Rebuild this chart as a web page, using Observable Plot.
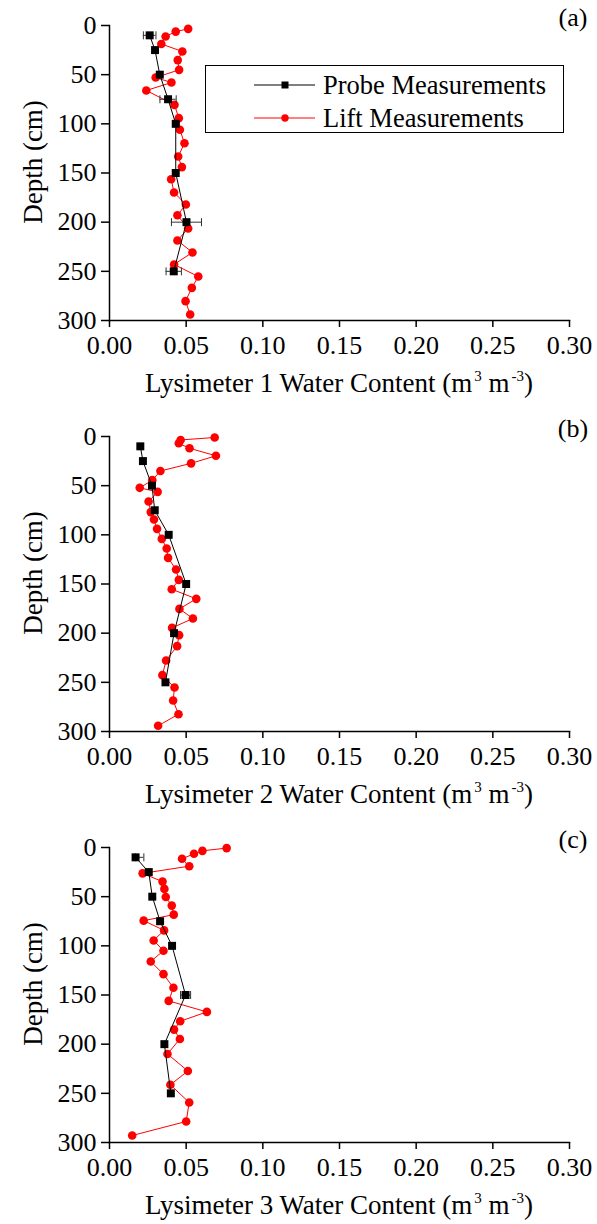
<!DOCTYPE html>
<html><head><meta charset="utf-8">
<script src="https://cdn.jsdelivr.net/npm/d3@7"></script>
<script src="https://cdn.jsdelivr.net/npm/@observablehq/plot@0.6"></script>
<style>
html,body{margin:0;padding:0;background:#fff;overflow:hidden;}
#chart{width:597px;}
#chart svg{display:block;}
</style></head><body><div id="chart"></div>
<script>
// ---- data ----
const xTicks = [0, 0.05, 0.10, 0.15, 0.20, 0.25, 0.30];
const yTicks = [0, 50, 100, 150, 200, 250, 300];
const panelLabels = ["(a)", "(b)", "(c)"];
const lysimeterNames = ["Lysimeter 1", "Lysimeter 2", "Lysimeter 3"];
const seriesNames = ["Probe Measurements", "Lift Measurements"];
const yTitle = "Depth (cm)";

const probeDepth = [10, 25, 50, 75, 100, 150, 200, 250];
const probe1 = [0.0262, 0.0297, 0.0328, 0.0382, 0.0432, 0.0432, 0.0502, 0.0419];
const probe1ErrLo = [0.0041, 0, 0, 0.0053, 0, 0, 0.0098, 0.005];
const probe1ErrHi = [0.0041, 0, 0, 0.0053, 0, 0, 0.0098, 0.005];
const probe2 = [0.0201, 0.0218, 0.0277, 0.0295, 0.0386, 0.0500, 0.0421, 0.0365];
const probe2ErrLo = [0, 0, 0, 0, 0, 0, 0, 0];
const probe2ErrHi = [0, 0, 0, 0, 0, 0, 0, 0];
const probe3 = [0.0170, 0.0256, 0.0279, 0.0330, 0.0408, 0.0496, 0.0358, 0.0400];
const probe3ErrLo = [0, 0, 0, 0, 0, 0.0033, 0, 0];
const probe3ErrHi = [0.0054, 0, 0, 0, 0, 0.0033, 0, 0];

const lift1Depth = [3.4, 6.2, 11.2, 18.8, 26.4, 35.2, 45.1, 52.9, 58, 66.1, 80.7, 94.2, 106, 119.7, 133.2, 144, 156.3, 169.8, 182, 192.9, 206.4, 218.6, 230.8, 243, 255.3, 266.8, 280.3, 293.9];
const lift1 = [0.0513, 0.0432, 0.0366, 0.0338, 0.0475, 0.0445, 0.0454, 0.0301, 0.0404, 0.0240, 0.0424, 0.0452, 0.0459, 0.0489, 0.0448, 0.0472, 0.0402, 0.0421, 0.0498, 0.0443, 0.0513, 0.0443, 0.0541, 0.0421, 0.0579, 0.0537, 0.0496, 0.0526];

const lift2Depth = [1, 3.5, 6.9, 12, 19.6, 27.3, 35.1, 44.4, 52.2, 56.3, 66.1, 76.9, 84.4, 93.9, 104.1, 113.9, 123.4, 135.3, 145.8, 155.3, 165.1, 175.3, 185.1, 194.6, 202, 213.2, 227.8, 242.7, 255.3, 268.5, 282.4, 294.2];
const lift2 = [0.0686, 0.0464, 0.0452, 0.0522, 0.0694, 0.0532, 0.0332, 0.0279, 0.0197, 0.0314, 0.0255, 0.0269, 0.0290, 0.0310, 0.0341, 0.0373, 0.0382, 0.0434, 0.0452, 0.0406, 0.0566, 0.0456, 0.0544, 0.0408, 0.0454, 0.0441, 0.0369, 0.0345, 0.0424, 0.0415, 0.0450, 0.0317];

const lift3Depth = [0.6, 3.4, 6.4, 11.5, 19, 26.3, 34.7, 42.1, 50.3, 59.1, 68.3, 74.4, 84.3, 94.5, 105, 115.9, 128.8, 142.7, 156, 167.2, 176.7, 185.2, 194.7, 210, 227.3, 241.3, 259.3, 278.6, 292.9];
const lift3 = [0.0764, 0.0606, 0.0551, 0.0473, 0.0520, 0.0216, 0.0346, 0.0358, 0.0367, 0.0406, 0.0419, 0.0223, 0.0356, 0.0288, 0.0352, 0.0269, 0.0352, 0.0417, 0.0386, 0.0635, 0.0461, 0.0421, 0.0459, 0.0378, 0.0511, 0.0397, 0.0520, 0.0500, 0.0148];

// ---- build ----
const panels = [
  {probe: probe1, lo: probe1ErrLo, hi: probe1ErrHi, liftD: lift1Depth, lift: lift1},
  {probe: probe2, lo: probe2ErrLo, hi: probe2ErrHi, liftD: lift2Depth, lift: lift2},
  {probe: probe3, lo: probe3ErrLo, hi: probe3ErrHi, liftD: lift3Depth, lift: lift3}
];
const heights = [411, 411, 402];
const FONT = "'Liberation Serif', 'Times New Roman', Times, serif";
const capSymbol = {draw(ctx, size) { const h = Math.sqrt(size / Math.PI); ctx.moveTo(0, -h); ctx.lineTo(0, h); }};

panels.forEach((p, i) => {
  const probeRows = probeDepth.map((d, k) => ({depth: d, v: p.probe[k], lo: p.probe[k] - p.lo[k], hi: p.probe[k] + p.hi[k], hasErr: p.lo[k] + p.hi[k] > 0}));
  const errRows = probeRows.filter(r => r.hasErr);
  const liftRows = p.liftD.map((d, k) => ({depth: d, v: p.lift[k]}));
  const H = heights[i];
  const plot = Plot.plot({
    width: 597, height: H,
    marginLeft: 109, marginRight: 28, marginTop: 25, marginBottom: H - 320,
    style: {fontFamily: FONT, fontSize: "26px", color: "black", background: "white", overflow: "visible"},
    x: {domain: [0, 0.30], range: [109, 569]},
    y: {domain: [0, 300], range: [25, 320]},
    marks: [
      Plot.line(liftRows, {x: "v", y: "depth", stroke: "#ff0000", strokeWidth: 1}),
      Plot.dot(liftRows, {x: "v", y: "depth", r: 4.3, fill: "#ff0000", stroke: null}),
      Plot.ruleY(errRows, {y: "depth", x1: "lo", x2: "hi", stroke: "#333", strokeWidth: 1}),
      Plot.dot(errRows, {x: "lo", y: "depth", symbol: capSymbol, r: 4, stroke: "#333", strokeWidth: 1}),
      Plot.dot(errRows, {x: "hi", y: "depth", symbol: capSymbol, r: 4, stroke: "#333", strokeWidth: 1}),
      Plot.line(probeRows, {x: "v", y: "depth", stroke: "black", strokeWidth: 1}),
      Plot.dot(probeRows, {x: "v", y: "depth", symbol: "square", r: 4.5, fill: "black", stroke: null}),
      Plot.axisX({ticks: xTicks, tickFormat: d3.format(".2f"), tickSize: 7, tickPadding: 8, label: null, strokeWidth: 1.5}),
      Plot.axisY({ticks: yTicks, tickFormat: d3.format("d"), tickSize: 8, tickPadding: 5, label: null, strokeWidth: 1.5}),
      Plot.frame({anchor: "left", strokeWidth: 1.5}),
      Plot.frame({anchor: "bottom", strokeWidth: 1.5})
    ]
  });
  const s = d3.select(plot);
  // x-axis title with superscripts
  const t = s.append("text").attr("x", 339).attr("y", 392).attr("text-anchor", "middle")
    .attr("font-size", 27).attr("fill", "black");
  t.append("tspan").text(lysimeterNames[i] + " Water Content (m");
  t.append("tspan").attr("font-size", 15).attr("dx", 2).attr("dy", -11).text("3");
  t.append("tspan").attr("dy", 11).text(" m");
  t.append("tspan").attr("font-size", 15).attr("dx", 2).attr("dy", -11).text("-3");
  t.append("tspan").attr("dy", 11).text(")");
  // y-axis title
  s.append("text").attr("transform", "translate(33,162) rotate(-90)").attr("text-anchor", "middle")
    .attr("dominant-baseline", "central").attr("font-size", 27).attr("fill", "black").text(yTitle);
  // panel label
  s.append("text").attr("x", 573).attr("y", 26).attr("text-anchor", "middle")
    .attr("font-size", 26).attr("fill", "black").text(panelLabels[i]);
  // legend in first panel
  if (i === 0) {
    const g = s.append("g");
    g.append("rect").attr("x", 205.5).attr("y", 65.5).attr("width", 358).attr("height", 67)
      .attr("fill", "white").attr("stroke", "black").attr("stroke-width", 1);
    const rows = [{y: 85, c: "black", sym: "sq"}, {y: 118, c: "#ff0000", sym: "ci"}];
    rows.forEach((r, k) => {
      g.append("line").attr("x1", 254).attr("x2", 315).attr("y1", r.y).attr("y2", r.y)
        .attr("stroke", r.c).attr("stroke-width", 1);
      if (r.sym === "sq") g.append("rect").attr("x", 281.5).attr("y", r.y - 3.5).attr("width", 7).attr("height", 7).attr("fill", r.c);
      else g.append("circle").attr("cx", 285).attr("cy", r.y).attr("r", 3.7).attr("fill", r.c);
      g.append("text").attr("x", 323).attr("y", r.y + 9).attr("text-anchor", "start")
        .attr("font-size", 26.5).attr("fill", "black").text(seriesNames[k]);
    });
  }
  document.getElementById("chart").appendChild(plot);
});
</script>
</body></html>
